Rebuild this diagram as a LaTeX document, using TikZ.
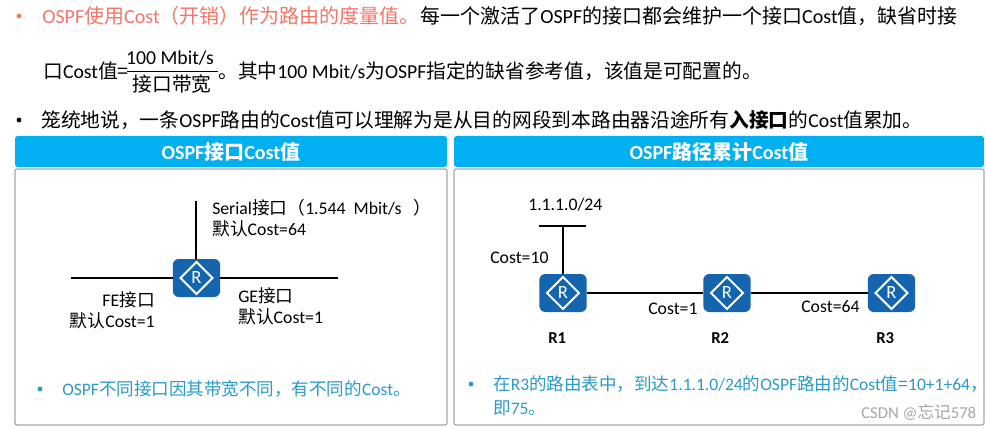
\documentclass[tikz,border=0pt]{standalone}
\usepackage{fontspec}
\setmainfont{Carlito}
\newfontfamily\cjk{Noto Sans CJK SC}
\newcommand{\C}[1]{{\cjk #1}}
\newcommand{\fs}[1]{\fontsize{#1}{#1}\selectfont}
\usetikzlibrary{shapes.geometric}
\definecolor{redtxt}{HTML}{F4756A}
\definecolor{bluebar}{HTML}{00B0F0}
\definecolor{boxgray}{HTML}{A6A6A6}
\definecolor{tealtxt}{HTML}{2B9AC8}
\definecolor{routerblue}{HTML}{1565AE}
\tikzset{
  x=0.75pt,y=-0.75pt,
  txt/.style={anchor=west,inner sep=0,font=\fs{14.8}},
  lab/.style={anchor=west,inner sep=0,font=\fs{13.3}},
  tl/.style={anchor=west,inner sep=0,text=tealtxt,font=\fs{13.15}},
  blt/.style={circle,fill=#1,inner sep=0,minimum size=3.6pt},
  bar/.style={fill=bluebar,rounded corners=2pt,draw=none},
  panel/.style={draw=boxgray,line width=0.9pt,rounded corners=1.5pt,fill=white},
  bartxt/.style={text=white,inner sep=0,font=\fs{15}\bfseries},
  router/.style={fill=routerblue,rounded corners=4.5pt,minimum width=35.5pt,minimum height=28.5pt,inner sep=0},
  rmark/.style={diamond,draw=white,line width=1.4pt,minimum width=24.5pt,minimum height=24.5pt,inner sep=0,text=white,font=\fs{14}},
  wire/.style={draw=black,line width=1.2pt},
}
\begin{document}
\begin{tikzpicture}
\useasboundingbox (0,0) rectangle (986,428);
\fill[white] (0,0) rectangle (986,428);
% top text
\node[blt=redtxt] (b1) at (19,16) {};
\node[txt,text=redtxt,font=\fs{15}] (t1) at (42,16) {OSPF\C{使用}Cost\C{（开销）作为路由的度量值。}};
\node[txt,font=\fs{15}] (t1b) at (t1.east) {\C{每一个激活了}OSPF\C{的接口都会维护一个接口}Cost\C{值，缺省时接}};
\node[txt] (t2) at (43,71) {\C{口}Cost\C{值=}};
\node[inner sep=0,font=\fs{14.8}] (num) at (170,58) {100 Mbit/s};
\node[inner sep=0,font=\fs{14.8}] (den) at (172,84) {\C{接口带宽}};
\draw[black,line width=0.6pt] (127,71) -- (218,71);
\node[txt] (t2b) at (218,71) {\C{。其中}100 Mbit/s\C{为}OSPF\C{指定的缺省参考值，该值是可配置的。}};
\node[blt=black] (b3) at (19,120) {};
\node[txt] (t3) at (41,120) {\C{笼统地说，一条}OSPF\C{路由的}Cost\C{值可以理解为是从目的网段到本路由器沿途所有}{\cjk\bfseries 入接口}\C{的}Cost\C{值累加。}};
% bars
\fill[bar] (15,136) rectangle (447,167);
\fill[bar] (454,136) rectangle (984,167);
\node[bartxt] (h1) at (231,152) {OSPF\C{\bfseries 接口}Cost\C{\bfseries 值}};
\node[bartxt] (h2) at (719,152) {OSPF\C{\bfseries 路径累计}Cost\C{\bfseries 值}};
% panels
\draw[panel] (15,169) rectangle (447,425);
\draw[panel] (454,169) rectangle (984,425);
% left router
\node[router] (r0) at (196.5,278) {};
\node[rmark] (r0m) at (r0) {R};
\coordinate (ltop) at (196,201);
\coordinate (lw) at (71,278);
\coordinate (le) at (338,278);
\draw[wire] (ltop) -- (ltop |- r0.north);
\draw[wire] (lw) -- (r0.west);
\draw[wire] (r0.east) -- (le);
\node[lab] (s1) at (212,208) {Serial\C{接口（}1.544\ \ Mbit/s\ \ \ \C{）}};
\node[lab] (s2) at (212,229) {\C{默认}Cost=64};
\node[lab,anchor=east] (f1) at (155,300) {FE\C{接口}};
\node[lab,anchor=east] (f2) at (155,321) {\C{默认}Cost=1};
\node[lab] (g1) at (238,296) {GE\C{接口}};
\node[lab] (g2) at (238,317) {\C{默认}Cost=1};
\node[blt=tealtxt] (b4) at (40,389) {};
\node[tl] (t4) at (62,389) {OSPF\C{不同接口因其带宽不同，有不同的}Cost\C{。}};
% right routers
\node[router] (r1) at (563,293) {};
\node[router] (r2) at (727,293) {};
\node[router] (r3) at (891.5,293) {};
\coordinate (nl) at (539,226);
\coordinate (nr) at (586,226);
\coordinate (nm) at (563,226);
\draw[wire] (nl) -- (nr);
\draw[wire] (nm) -- (r1.north);
\draw[wire] (r1) -- (r2);
\draw[wire] (r2) -- (r3);
\node[rmark] (r1m) at (r1) {R};
\node[rmark] (r2m) at (r2) {R};
\node[rmark] (r3m) at (r3) {R};
\node[lab] (n0) at (528,205) {1.1.1.0/24};
\node[lab] (c1) at (490,258) {Cost=10};
\node[lab] (c2) at (648,309) {Cost=1};
\node[lab] (c3) at (801,307) {Cost=64};
\node[lab,font=\fs{12.5}\bfseries] (l1) at (548,338) {R1};
\node[lab,font=\fs{12.5}\bfseries] (l2) at (711,338) {R2};
\node[lab,font=\fs{12.5}\bfseries] (l3) at (876,338) {R3};
\node[blt=tealtxt] (b5) at (471,384) {};
\node[tl] (t5) at (493,384) {\C{在}R3\C{的路由表中，到达}1.1.1.0/24\C{的}OSPF\C{路由的}Cost\C{值=}10+1+64\C{，}};
\node[tl] (t6) at (493,408) {\C{即}75\C{。}};
\node[txt,text=gray!70,font=\fs{12.5}] (wm) at (861,412) {CSDN @\C{忘记}578};
\end{tikzpicture}
\end{document}
